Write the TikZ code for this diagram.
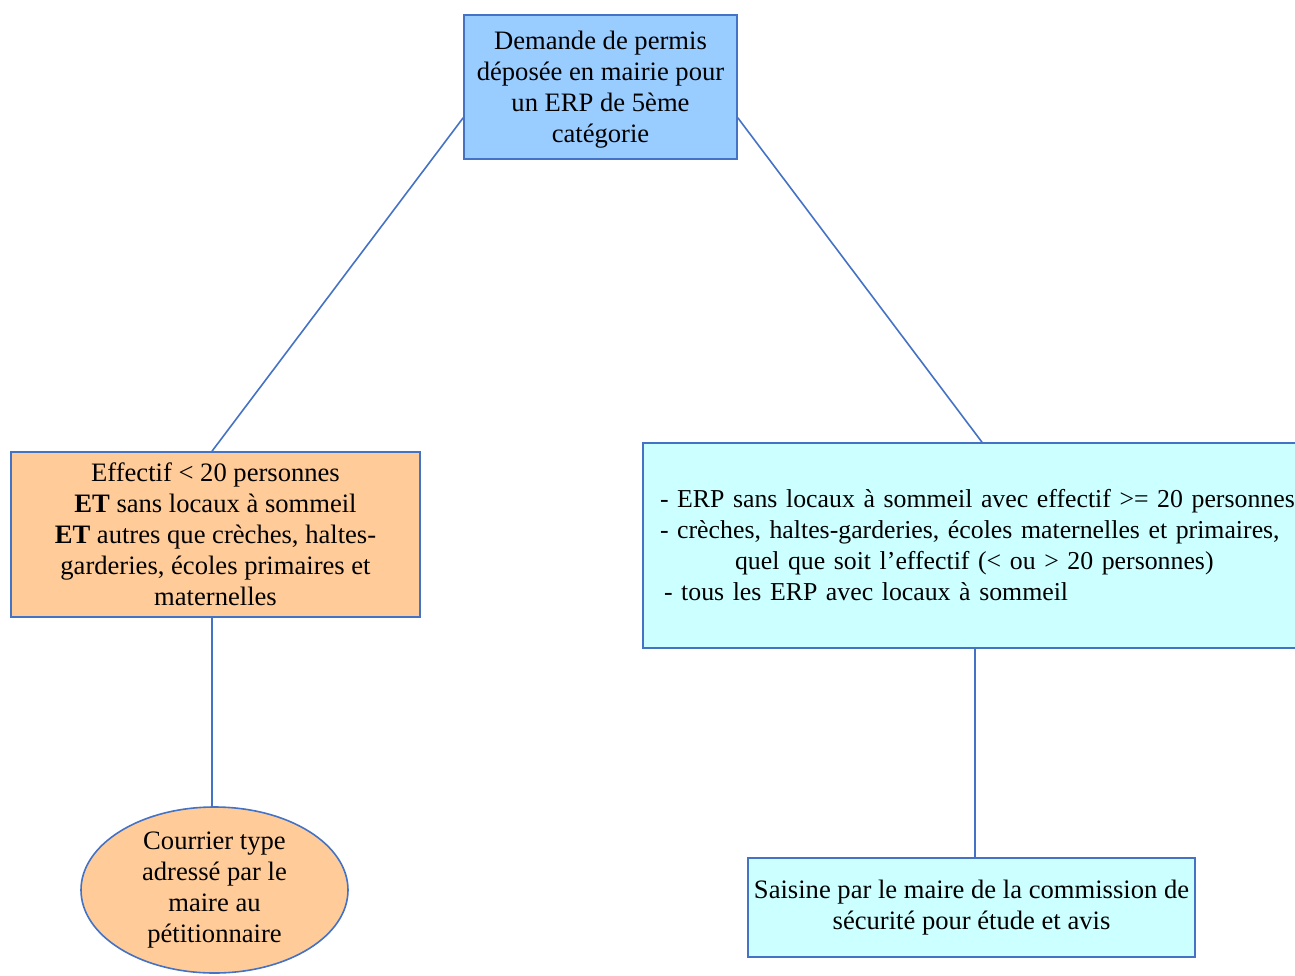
\documentclass[tikz,border=0pt]{standalone}
\usepackage{fontspec}
\setmainfont{Liberation Serif}
\usepackage{tikz}
\usetikzlibrary{shapes.geometric}

\definecolor{edgeblue}{HTML}{4472C4}
\definecolor{topfill}{HTML}{99CCFF}
\definecolor{peachfill}{HTML}{FFCC99}
\definecolor{cyanfill}{HTML}{CCFFFF}

\tikzset{
    every node/.style={font=\fontsize{13.3}{15.5}\selectfont},
    box/.style={draw=edgeblue, line width=0.8pt, rectangle, align=center, inner sep=0pt},
    bubble/.style={draw=edgeblue, line width=0.8pt, ellipse, align=center, inner sep=0pt},
    link/.style={draw=edgeblue, line width=0.8pt}
}

\begin{document}
\begin{tikzpicture}[x=0.5pt, y=-0.5pt]
                    \useasboundingbox (0, 0) rectangle (1295, 975);

                    \node[box, fill=topfill, minimum width=136.5pt, minimum height=72pt, text depth=-1pt]
                        (demande) at (600.5, 87)
                        {Demande de permis\\déposée en mairie pour\\un ERP de 5ème\\catégorie};
                    \node[box, fill=peachfill, minimum width=204.5pt, minimum height=82.5pt]
                        (petit) at (215.5, 534.5)
                        {Effectif < 20 personnes\\\textbf{ET} sans locaux à sommeil\\\textbf{ET} autres que crèches, haltes-\\garderies, écoles primaires et\\maternelles};
                    \node[box, fill=cyanfill, align=left, text width=322pt, inner xsep=8.5pt, minimum height=102.5pt,
                          font=\fontsize{12.9}{15.5}\selectfont]
                        (grand) at (982, 545.5)
                        {- ERP sans locaux à sommeil avec effectif >= 20 personnes\\
                         - crèches, haltes-garderies, écoles maternelles et primaires,\\
                         \hspace*{37.5pt}quel que soit l’effectif (< ou > 20 personnes)\\
                         \hspace*{2pt}- tous les ERP avec locaux à sommeil};
                    \node[bubble, fill=peachfill, minimum width=133.5pt, minimum height=83pt]
                        (courrier) at (214.5, 890)
                        {Courrier type\\adressé par le\\maire au\\pétitionnaire};
                    \node[box, fill=cyanfill, minimum width=223.5pt, minimum height=49.5pt]
                        (saisine) at (971.5, 907.5)
                        {Saisine par le maire de la commission de\\sécurité pour étude et avis};

                    \draw[link]
                        ([yshift=21pt]demande.south west) -- ([xshift=-1.75pt]petit.north)
                        ([yshift=21pt]demande.south east) -- (grand.north)
                        ([xshift=-1.75pt]petit.south) -- ([xshift=-1.75pt]petit.south |- courrier.north)
                        ([xshift=1.75pt]saisine.north) -- ([xshift=1.75pt]saisine.north |- grand.south)
                    ;
\end{tikzpicture}
\end{document}
